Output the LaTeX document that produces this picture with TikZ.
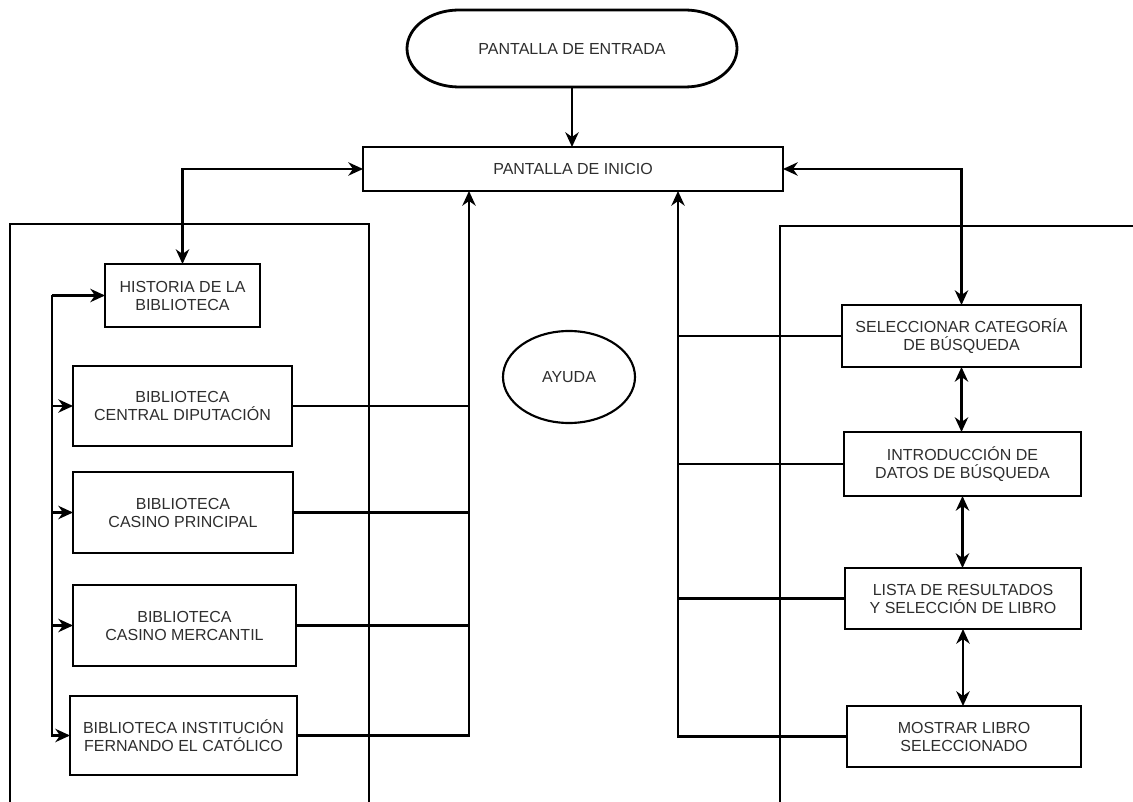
\documentclass[tikz,border=0pt]{standalone}
\usepackage{fontspec}
\setmainfont{Liberation Sans}
\usetikzlibrary{arrows.meta,shapes.geometric}
\tikzset{
  lbl/.style={font=\fontsize{12}{13.5}\selectfont, text=black!82, align=center,
              inner sep=0pt, outer sep=0pt},
  box/.style={lbl, draw=black, line width=2.1pt, rectangle},
  plain/.style={lbl},
  oval/.style={lbl, draw=black, line width=1.6pt, ellipse},
  wire/.style={draw=black, line width=1.7pt},
  tip/.tip={Stealth[length=11pt,width=10pt,inset=3.5pt]},
  arr/.style={wire, -tip},
  darr/.style={wire, tip-tip},
  frame/.style={draw=black, line width=1.7pt},
}
\begin{document}
\begin{tikzpicture}[x=0.75pt,y=-0.75pt]
\useasboundingbox (0,0) rectangle (1133,802);
\fill[white] (0,0) rectangle (1133,802);

% section frames, open at the bottom
\draw[frame] (10,802) |- (369,224) -- (369,802);
\draw[frame] (780,802) |- (1140,226);

% entry screen (stadium outline)
\node[plain, minimum width=247.5pt, minimum height=57.75pt] (ent) at (572,48.5) {PANTALLA DE ENTRADA};
\draw[line width=2.1pt] ([xshift=39pt]ent.north west) -- ([xshift=-39pt]ent.north east)
  arc[start angle=90, end angle=-90, x radius=39pt, y radius=28.875pt]
  -- ([xshift=39pt]ent.south west)
  arc[start angle=270, end angle=90, x radius=39pt, y radius=28.875pt] -- cycle;

\node[box, minimum width=315pt, minimum height=33pt] (ini) at (573,169) {PANTALLA DE INICIO};

% left column
\node[box, minimum width=116.25pt, minimum height=47.25pt] (his) at (182.5,295.5) {HISTORIA DE LA\\BIBLIOTECA};
\node[box, minimum width=164.25pt, minimum height=60pt] (cen) at (182.5,406) {BIBLIOTECA\\CENTRAL DIPUTACIÓN};
\node[box, minimum width=165pt, minimum height=60.75pt] (pri) at (183,512.5) {BIBLIOTECA\\CASINO PRINCIPAL};
\node[box, minimum width=167.25pt, minimum height=60.75pt] (mer) at (184.5,625.5) {BIBLIOTECA\\CASINO MERCANTIL};
\node[box, minimum width=170.25pt, minimum height=59.25pt] (ins) at (183.5,735.5) {BIBLIOTECA INSTITUCIÓN\\FERNANDO EL CATÓLICO};

% help
\node[oval, minimum width=99pt, minimum height=69pt] (ayu) at (569,377) {AYUDA};

% right column
\node[box, minimum width=179.25pt, minimum height=46.5pt] (sel) at (961.5,336) {SELECCIONAR CATEGORÍA\\DE BÚSQUEDA};
\node[box, minimum width=177.75pt, minimum height=48pt] (int) at (962.5,464) {INTRODUCCIÓN DE\\DATOS DE BÚSQUEDA};
\node[box, minimum width=177pt, minimum height=45.75pt] (lis) at (963,598.5) {LISTA DE RESULTADOS\\Y SELECCIÓN DE LIBRO};
\node[box, minimum width=175.5pt, minimum height=45.75pt] (mos) at (964,736.5) {MOSTRAR LIBRO\\SELECCIONADO};

% connectors
\draw[arr] (ent.south) -- (ent.south |- ini.north);
\draw[darr] (ini.west) -| (his.north);
\draw[darr] (ini.east) -| (sel.north);

\coordinate (busL) at (52,295.5);
\draw[arr] (busL) -- (his.west);
\draw[arr] (busL) |- (ins.west);
\foreach \n in {cen,pri,mer} \draw[arr] (busL |- \n.west) -- (\n.west);

\coordinate (upL) at (469,191);
\draw[arr] (ins.east) -| (upL);
\foreach \n in {cen,pri,mer} \draw[wire] (\n.east) -- (\n.east -| upL);

\coordinate (upR) at (678,191);
\draw[arr] (mos.west) -| (upR);
\foreach \n in {sel,int,lis} \draw[wire] (\n.west) -- (\n.west -| upR);

\draw[darr] (sel.south) -- (sel.south |- int.north);
\draw[darr] (int.south) -- (int.south |- lis.north);
\draw[darr] (lis.south) -- (lis.south |- mos.north);
\end{tikzpicture}
\end{document}
